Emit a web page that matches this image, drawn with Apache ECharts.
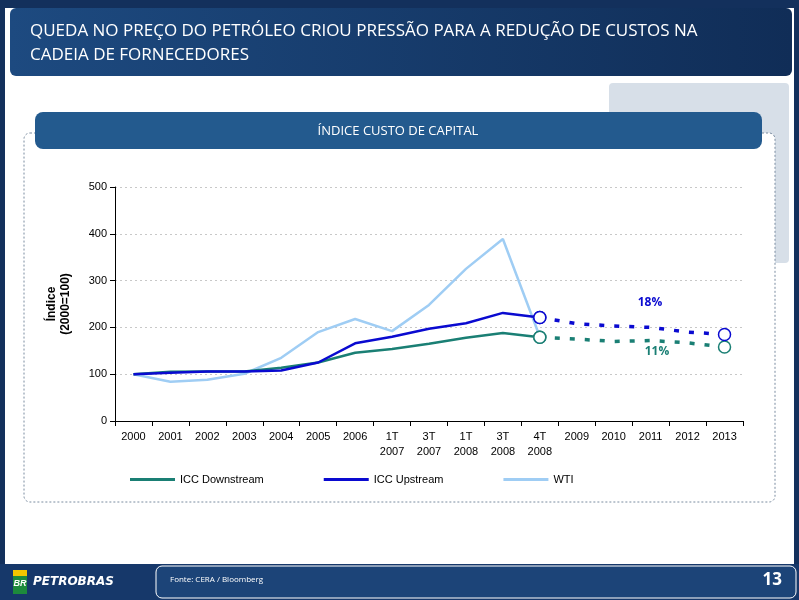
<!DOCTYPE html>
<html><head><meta charset="utf-8">
<script src="https://cdn.jsdelivr.net/npm/echarts@6/dist/echarts.min.js"></script>
<style>html,body{margin:0;padding:0;background:#10284f}#main{width:799px;height:600px}</style>
</head><body><div id="main"></div>
<script>
var categories = ['2000','2001','2002','2003','2004','2005','2006','1T\n2007','3T\n2007','1T\n2008','3T\n2008','4T\n2008','2009','2010','2011','2012','2013'];
var downstream = [100,105,106,106,114,125,146,154,165,178,188,179,null,null,null,null,null];
var upstream = [100,103,106,106,108,125,166,180,197,209,231,221,null,null,null,null,null];
var wti = [100,84,88,101,135,190,218,192,248,325,389,180,null,null,null,null,null];
var downstreamProj = [null,null,null,null,null,null,null,null,null,null,null,179,175,170,172,167,158];
var upstreamProj = [null,null,null,null,null,null,null,null,null,null,null,221,208,203,200,190,185];

var teal = '#1a7f74', blue = '#0a0ad0', light = '#9fcdf4';

function ends(arr) {
    return arr.map(function (v, i) {
        if (i === 11 || i === 16) return { value: v, symbol: 'circle', symbolSize: 12 };
        return { value: v, symbol: 'none' };
    });
}

var chart = echarts.init(document.getElementById('main'));
chart.setOption({
    backgroundColor: '#ffffff',
    animation: false,
    graphic: [
        // frame
        { type: 'rect', shape: { x: 0, y: 0, width: 799, height: 600 }, style: { fill: 'none', stroke: '#13305c', lineWidth: 10 }, z: -10 },
        { type: 'rect', shape: { x: 0, y: 0, width: 799, height: 8 }, style: { fill: '#13305c' }, z: -9 },
        { type: 'rect', shape: { x: 10, y: 8, width: 782, height: 68, r: 6 }, style: { fill: new echarts.graphic.LinearGradient(0, 0, 1, 0, [{ offset: 0, color: '#1d4a80' }, { offset: 1, color: '#102d57' }]) }, z: -8 },
        { type: 'text', left: 30, top: 19, style: { text: 'QUEDA NO PREÇO DO PETRÓLEO CRIOU PRESSÃO PARA A REDUÇÃO DE CUSTOS NA\nCADEIA DE FORNECEDORES', fill: '#ffffff', font: '17px "Open Sans"', lineHeight: 24 } },
        { type: 'rect', shape: { x: 609, y: 83, width: 180, height: 180, r: 4 }, style: { fill: '#d7dfe8' }, z: -8 },
        { type: 'rect', shape: { x: 24, y: 133, width: 751, height: 369, r: 6 }, style: { fill: '#ffffff', stroke: '#7a8ca0', lineDash: [2, 2], lineWidth: 1 }, z: -7 },
        { type: 'rect', shape: { x: 35, y: 112, width: 727, height: 37, r: 8 }, style: { fill: '#235a8e' }, z: -6 },
        { type: 'text', x: 398, y: 131, style: { text: 'ÍNDICE CUSTO DE CAPITAL', fill: '#ffffff', font: '13px "Open Sans"', align: 'center', verticalAlign: 'middle' } },
        { type: 'text', x: 650, y: 303, style: { text: '18%', fill: blue, font: 'bold 12px "Open Sans"', align: 'center', verticalAlign: 'middle' } },
        { type: 'text', x: 657, y: 352, style: { text: '11%', fill: teal, font: 'bold 12px "Open Sans"', align: 'center', verticalAlign: 'middle' } },
        // footer
        { type: 'rect', shape: { x: 0, y: 564, width: 799, height: 36 }, style: { fill: '#16386a' }, z: -5 },
        { type: 'rect', shape: { x: 156, y: 566, width: 640, height: 32, r: 6 }, style: { fill: '#1c4478', stroke: '#ffffff', lineWidth: 1 }, z: -4 },
        { type: 'rect', shape: { x: 13, y: 570, width: 14, height: 24 }, style: { fill: '#1d8a3c' } },
        { type: 'rect', shape: { x: 13, y: 570, width: 14, height: 6 }, style: { fill: '#f2c500' } },
        { type: 'text', x: 20, y: 584, style: { text: 'BR', fill: '#ffffff', font: 'italic bold 9px sans-serif', align: 'center', verticalAlign: 'middle' } },
        { type: 'text', x: 33, y: 582, style: { text: 'PETROBRAS', fill: '#ffffff', font: 'italic bold 12px "DejaVu Sans"', verticalAlign: 'middle' } },
        { type: 'text', x: 170, y: 580, style: { text: 'Fonte: CERA / Bloomberg', fill: '#ffffff', font: '8px "Open Sans"', verticalAlign: 'middle' } },
        { type: 'text', x: 782, y: 580, style: { text: '13', fill: '#ffffff', font: 'bold 17px "Open Sans"', align: 'right', verticalAlign: 'middle' } }
    ],
    grid: { left: 115, right: 56, top: 187, bottom: 179 },
    legend: {
        bottom: 110, left: 125, itemGap: 60, itemWidth: 45, itemHeight: 3,
        data: [
            { name: 'ICC Downstream', icon: 'rect', itemStyle: { color: teal, borderWidth: 0 } },
            { name: 'ICC Upstream', icon: 'rect', itemStyle: { color: blue, borderWidth: 0 } },
            { name: 'WTI', icon: 'rect', itemStyle: { color: light, borderWidth: 0 } }
        ],
        textStyle: { fontFamily: 'Liberation Sans', fontSize: 11, color: '#000', padding: [0, 45, 0, 0] }
    },
    xAxis: {
        type: 'category', data: categories, boundaryGap: true,
        axisLine: { lineStyle: { color: '#000' } },
        axisTick: { show: true, lineStyle: { color: '#000' } },
        axisLabel: { color: '#000', fontFamily: 'Liberation Sans', fontSize: 11, interval: 0, lineHeight: 15 }
    },
    yAxis: {
        type: 'value', min: 0, max: 500, interval: 100,
        name: 'Índice\n(2000=100)', nameLocation: 'middle', nameGap: 42, nameRotate: 90,
        nameTextStyle: { color: '#000', fontWeight: 'bold', fontSize: 12, fontFamily: 'Liberation Sans', lineHeight: 14 },
        axisLine: { show: true, lineStyle: { color: '#000' } },
        axisTick: { show: true, lineStyle: { color: '#000' } },
        axisLabel: { color: '#000', fontFamily: 'Liberation Sans', fontSize: 11 },
        splitLine: { lineStyle: { color: '#c8c8c8', type: [2, 3] } }
    },
    series: [
        { name: 'ICC Downstream', type: 'line', data: ends(downstream), lineStyle: { width: 2.5, color: teal }, itemStyle: { color: '#fff', borderColor: teal, borderWidth: 1.5 }, z: 3 },
        { name: 'ICC Upstream', type: 'line', data: ends(upstream), lineStyle: { width: 2.5, color: blue }, itemStyle: { color: '#fff', borderColor: blue, borderWidth: 1.5 }, z: 4 },
        { name: 'WTI', type: 'line', data: wti, symbol: 'none', lineStyle: { width: 2.5, color: light }, itemStyle: { color: light }, z: 2 },
        { name: 'downProj', type: 'line', data: ends(downstreamProj), lineStyle: { width: 3.5, color: teal, type: [5, 10] }, itemStyle: { color: '#fff', borderColor: teal, borderWidth: 1.5 }, z: 3 },
        { name: 'upProj', type: 'line', data: ends(upstreamProj), lineStyle: { width: 3.5, color: blue, type: [5, 10] }, itemStyle: { color: '#fff', borderColor: blue, borderWidth: 1.5 }, z: 4 }
    ]
});
</script>
</body></html>
